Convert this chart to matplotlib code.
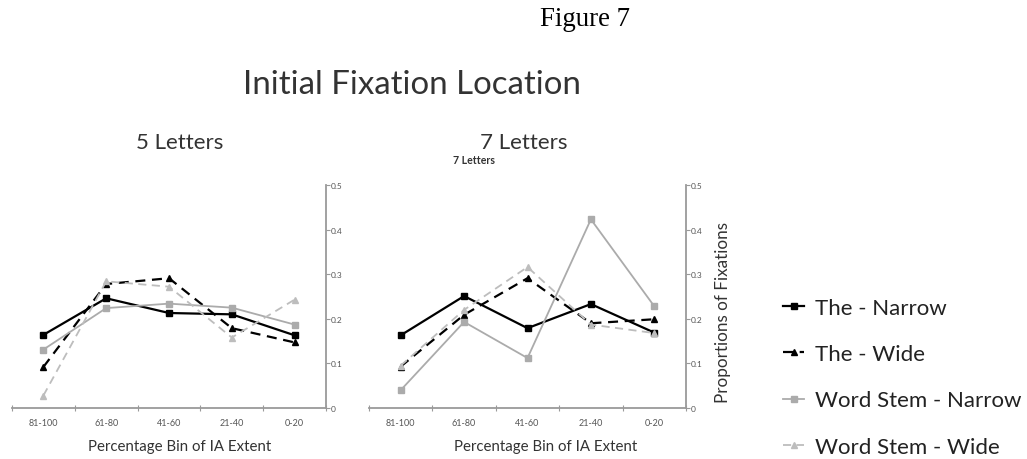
import numpy as np
import matplotlib.pyplot as plt
from matplotlib.lines import Line2D

bins = ["81-100", "61-80", "41-60", "21-40", "0-20"]
series_names = ["The - Narrow", "The - Wide", "Word Stem - Narrow", "Word Stem - Wide"]

# 5 letters
five_the_narrow = [0.164, 0.246, 0.213, 0.210, 0.163]
five_the_wide = [0.092, 0.278, 0.291, 0.179, 0.147]
five_ws_narrow = [0.131, 0.224, 0.234, 0.225, 0.187]
five_ws_wide = [0.028, 0.284, 0.272, 0.158, 0.243]

# 7 letters
seven_the_narrow = [0.163, 0.251, 0.179, 0.233, 0.169]
seven_the_wide = [0.093, 0.209, 0.291, 0.190, 0.199]
seven_ws_narrow = [0.040, 0.193, 0.112, 0.423, 0.228]
seven_ws_wide = [0.095, 0.220, 0.316, 0.187, 0.168]

yticks = [0, 0.1, 0.2, 0.3, 0.4, 0.5]
ytick_labels = ["0", "0.1", "0.2", "0.3", "0.4", "0.5"]

styles = [
    dict(color="black", ls="-", marker="s", lw=1.6, ms=4),
    dict(color="black", ls=(0, (4.5, 3)), marker="^", lw=1.6, ms=4),
    dict(color="#ababab", ls="-", marker="s", lw=1.3, ms=4),
    dict(color="#bdbdbd", ls=(0, (4.5, 3)), marker="^", lw=1.3, ms=4),
]

plt.rcParams["font.family"] = ["Lato", "DejaVu Sans"]

W, H = 1027, 460
fig = plt.figure(figsize=(W / 100, H / 100), dpi=100)
fig.patch.set_facecolor("white")
renderer = fig.canvas.get_renderer()

axis_col = "#9a9a9a"
text_col = "#333333"


def fit_text(t, target, vertical=False):
    # scale font so the text spans the target width (or height) in pixels
    for _ in range(4):
        bb = t.get_window_extent(renderer=renderer)
        size = bb.height if vertical else bb.width
        t.set_fontsize(t.get_fontsize() * target / size)
    return t


def ftext(xc, yc, s, target, **kw):
    t = fig.text(xc / W, 1 - yc / H, s, ha="center", va="center", **kw)
    return fit_text(t, target, vertical=kw.get("rotation", 0) == 90)


def draw_panel(x0, x1, data):
    y0, y1 = 409, 186
    ax = fig.add_axes([x0 / W, 1 - y0 / H, (x1 - x0) / W, (y0 - y1) / H])
    x = np.arange(len(bins))
    for vals, st in zip(data, styles):
        ax.plot(x, vals, color=st["color"], linestyle=st["ls"], marker=st["marker"],
                lw=st["lw"], ms=st["ms"], mec=st["color"], mfc=st["color"])
    ax.set_xlim(-0.5, 4.5)
    ax.set_ylim(0, 0.5)
    for s in ["top", "left"]:
        ax.spines[s].set_visible(False)
    for s in ["bottom", "right"]:
        ax.spines[s].set_color(axis_col)
        ax.spines[s].set_linewidth(1.3)
    ax.yaxis.tick_right()
    ax.set_yticks(yticks)
    ax.set_yticklabels(ytick_labels)
    ax.tick_params(axis="y", direction="out", length=3, color=axis_col, labelsize=6,
                   labelcolor="#555555", pad=0.5, width=0.8)
    ax.set_xticks(x)
    ax.set_xticklabels(bins)
    ax.tick_params(axis="x", length=0, labelsize=6.5, labelcolor="#555555", pad=7)
    ax.set_xticks(np.arange(-0.5, 5, 1), minor=True)
    ax.tick_params(axis="x", which="minor", direction="inout", length=4, color=axis_col, width=0.8)
    return ax


draw_panel(12, 326, [five_the_narrow, five_the_wide, five_ws_narrow, five_ws_wide])
draw_panel(369, 686, [seven_the_narrow, seven_the_wide, seven_ws_narrow, seven_ws_wide])

ftext(585, 20, "Figure 7", 90, family="Liberation Serif", color="black")
ftext(411.5, 85, "Initial Fixation Location", 337, color=text_col)
ftext(180, 143, "5 Letters", 87, color=text_col)
ftext(524, 143, "7 Letters", 87, color=text_col)
ftext(474, 161, "7 Letters", 42, color=text_col, fontweight="bold")
ftext(180, 447, "Percentage Bin of IA Extent", 184, color=text_col)
ftext(546, 447, "Percentage Bin of IA Extent", 184, color=text_col)
ftext(723, 313, "Proportions of Fixations", 180, color=text_col, rotation=90)

leg_handles = [Line2D([0], [0], color=st["color"], linestyle=st["ls"], marker=st["marker"],
                      lw=st["lw"], ms=st["ms"]) for st in styles]
leg = fig.legend(leg_handles, series_names, loc="upper left", bbox_to_anchor=(783 / W, 1 - 299 / H),
                 frameon=False, fontsize=16, labelspacing=1.18, handlelength=0.95,
                 handletextpad=0.5, borderpad=0, borderaxespad=0, labelcolor="#222222")

fig.savefig("out.png", dpi=100, facecolor="white")
